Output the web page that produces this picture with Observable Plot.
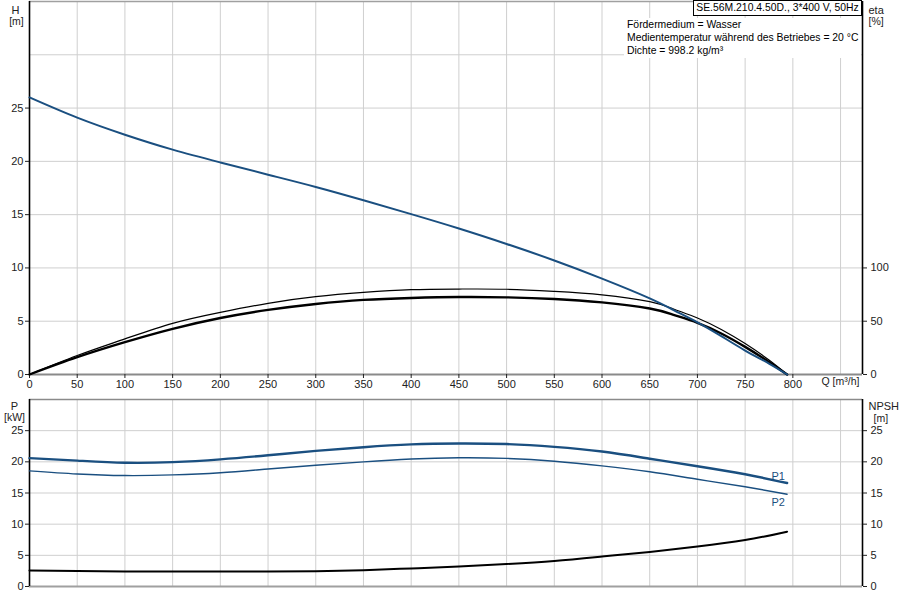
<!DOCTYPE html>
<html>
<head>
<meta charset="utf-8">
<script src="https://cdn.jsdelivr.net/npm/d3@7"></script>
<script src="https://cdn.jsdelivr.net/npm/@observablehq/plot@0.6"></script>
<style>
  body { margin: 0; background: #fff; font-family: "Liberation Sans", Arial, sans-serif; }
  #wrap { position: relative; width: 900px; height: 600px; overflow: hidden; }
  #top, #bot { position: absolute; left: 0; }
  #top { top: 0; }
  #bot { top: 395px; }
  #title { position: absolute; left: 693px; top: 0px; width: 169px; height: 16px; border: 1px solid #000; background: #fff;
           font-size: 10.4px; line-height: 14px; text-align: center; box-sizing: border-box; white-space: nowrap; overflow: hidden; }
  #info { position: absolute; left: 624px; top: 18px; width: 237px; height: 40px; background: #fff;
          font-size: 10.4px; line-height: 13px; padding-left: 3px; box-sizing: border-box; white-space: nowrap; }
</style>
</head>
<body>
<div id="wrap">
  <div id="top"></div>
  <div id="bot"></div>
  <div id="title">SE.56M.210.4.50D., 3*400 V, 50Hz</div>
  <div id="info">Fördermedium = Wasser<br>Medientemperatur während des Betriebes = 20 °C<br>Dichte = 998.2 kg/m³</div>
</div>
<script>
// ---- data ----
const qTop    = [0, 50, 100, 150, 200, 250, 300, 350, 400, 450, 500, 550, 600, 650, 675, 700, 725, 750, 775, 794];
const headH   = [26.0, 24.1, 22.5, 21.1, 19.9, 18.75, 17.6, 16.35, 15.05, 13.7, 12.25, 10.7, 9.0, 7.15, 6.05, 4.9, 3.6, 2.25, 1.03, 0];
const etaPump = [0, 17.8, 33.4, 48, 58.3, 66.8, 73, 77, 79.6, 80.2, 80, 78, 74.8, 68.4, 61.5, 53.0, 42.2, 29, 13.6, 0];
const etaTot  = [0, 16.2, 30.3, 42.8, 53, 60.6, 66.2, 70, 71.8, 72.7, 72.4, 70.9, 67.7, 61.9, 56, 48.5, 38.5, 25.9, 11.8, 0];

const qBot = [0, 50, 100, 150, 200, 250, 300, 350, 400, 450, 500, 550, 600, 650, 700, 750, 794];
const p1   = [20.6, 20.2, 19.85, 19.95, 20.4, 21.05, 21.75, 22.35, 22.8, 22.95, 22.85, 22.4, 21.65, 20.5, 19.3, 18.0, 16.6];
const p2   = [18.55, 18.05, 17.8, 17.9, 18.25, 18.85, 19.45, 20.0, 20.45, 20.65, 20.55, 20.1, 19.35, 18.4, 17.2, 16.0, 14.8];
const npsh = [2.55, 2.48, 2.42, 2.4, 2.4, 2.4, 2.45, 2.62, 2.9, 3.2, 3.6, 4.1, 4.8, 5.55, 6.4, 7.45, 8.8];

const qTicks   = d3.range(0, 801, 50);
const qGrid    = d3.range(50, 851, 50);
const hTicks   = [0, 5, 10, 15, 20, 25];
const hGrid    = [5, 10, 15, 20, 25, 30];
const etaTicks = [0, 50, 100];
const pTicks   = [0, 5, 10, 15, 20, 25];
const pGrid    = [5, 10, 15, 20, 25];
const qMax = 873, hMax = 35, pMax = 30;

const topData = qTop.map((q, i) => ({q, h: headH[i], ep: etaPump[i] / 10, et: etaTot[i] / 10}));
const botData = qBot.map((q, i) => ({q, p1: p1[i], p2: p2[i], n: npsh[i]}));

const font = "Liberation Sans, Arial, sans-serif";
const blue = "#1a4f80";
const gridC = "#cfcfcf";
const crv = "natural";

const topPlot = Plot.plot({
  width: 900, height: 395,
  marginLeft: 29, marginRight: 38, marginTop: 1, marginBottom: 21,
  style: {fontFamily: font, fontSize: "11px", color: "#222", background: "#fff"},
  x: {domain: [0, qMax], axis: null},
  y: {domain: [0, hMax], axis: null},
  marks: [
    Plot.gridX(qGrid, {stroke: gridC, strokeOpacity: 1, strokeWidth: 1}),
    Plot.gridY(hGrid, {stroke: gridC, strokeOpacity: 1, strokeWidth: 1}),
    Plot.ruleY([0], {stroke: "#8a8a8a", strokeWidth: 2}),
    Plot.ruleY([hMax], {stroke: "#a0a0a0", strokeWidth: 1.5}),
    Plot.ruleX([0], {stroke: "#000", strokeWidth: 1.6}),
    Plot.ruleX([qMax], {stroke: "#000", strokeWidth: 1.6}),
    Plot.axisX(qTicks, {anchor: "bottom", tickSize: 4, tickPadding: 2, label: null, fontSize: 11}),
    Plot.axisY(hTicks, {anchor: "left", tickSize: 4, tickPadding: 2, label: null, fontSize: 11}),
    Plot.axisY(etaTicks.map(d => d / 10), {anchor: "right", tickSize: 4, tickPadding: 4, label: null, fontSize: 11, tickFormat: d => String(Math.round(d * 10))}),
    Plot.line(topData, {x: "q", y: "ep", stroke: "#000", strokeWidth: 1.2, curve: crv}),
    Plot.line(topData, {x: "q", y: "et", stroke: "#000", strokeWidth: 2.4, curve: crv}),
    Plot.line(topData, {x: "q", y: "h", stroke: blue, strokeWidth: 2, curve: crv}),
    Plot.text(["H"], {frameAnchor: "top-left", dx: -14, dy: 5, fontSize: 11, textAnchor: "middle"}),
    Plot.text(["[m]"], {frameAnchor: "top-left", dx: -13, dy: 16, fontSize: 10.5, textAnchor: "middle"}),
    Plot.text(["eta"], {frameAnchor: "top-right", dx: 6, dy: 5, fontSize: 11, textAnchor: "start"}),
    Plot.text(["[%]"], {frameAnchor: "top-right", dx: 6, dy: 16, fontSize: 10.5, textAnchor: "start"}),
    Plot.text(["Q [m³/h]"], {frameAnchor: "bottom-right", dx: -41, dy: 10, fontSize: 10.5, textAnchor: "start"})
  ]
});
document.getElementById("top").appendChild(topPlot);

const botPlot = Plot.plot({
  width: 900, height: 205,
  marginLeft: 29, marginRight: 38, marginTop: 4, marginBottom: 14,
  style: {fontFamily: font, fontSize: "11px", color: "#222", background: "#fff"},
  x: {domain: [0, qMax], axis: null},
  y: {domain: [0, pMax], axis: null},
  marks: [
    Plot.gridX(qGrid, {stroke: gridC, strokeOpacity: 1, strokeWidth: 1}),
    Plot.gridY(pGrid, {stroke: gridC, strokeOpacity: 1, strokeWidth: 1}),
    Plot.ruleY([0], {stroke: "#a0a0a0", strokeWidth: 2}),
    Plot.ruleY([pMax], {stroke: "#8a8a8a", strokeWidth: 1.5}),
    Plot.ruleX([0], {stroke: "#000", strokeWidth: 1.6}),
    Plot.ruleX([qMax], {stroke: "#000", strokeWidth: 1.6}),
    Plot.axisY(pTicks, {anchor: "left", tickSize: 4, tickPadding: 2, label: null, fontSize: 11}),
    Plot.axisY(pTicks, {anchor: "right", tickSize: 4, tickPadding: 4, label: null, fontSize: 11}),
    Plot.line(botData, {x: "q", y: "n", stroke: "#000", strokeWidth: 2, curve: crv}),
    Plot.line(botData, {x: "q", y: "p2", stroke: blue, strokeWidth: 1.4, curve: crv}),
    Plot.line(botData, {x: "q", y: "p1", stroke: blue, strokeWidth: 2.4, curve: crv}),
    Plot.text(botData.slice(-1), {x: "q", y: "p1", text: () => "P1", dx: -9, dy: -7, fill: blue, fontSize: 11}),
    Plot.text(botData.slice(-1), {x: "q", y: "p2", text: () => "P2", dx: -9, dy: 8, fill: blue, fontSize: 11}),
    Plot.text(["P"], {frameAnchor: "top-left", dx: -15, dy: 3, fontSize: 11, textAnchor: "middle"}),
    Plot.text(["[kW]"], {frameAnchor: "top-left", dx: -15, dy: 14, fontSize: 10.5, textAnchor: "middle"}),
    Plot.text(["NPSH"], {frameAnchor: "top-right", dx: 6, dy: 3, fontSize: 11, textAnchor: "start"}),
    Plot.text(["[m]"], {frameAnchor: "top-right", dx: 11, dy: 15, fontSize: 10.5, textAnchor: "start"})
  ]
});
document.getElementById("bot").appendChild(botPlot);
</script>
</body>
</html>
